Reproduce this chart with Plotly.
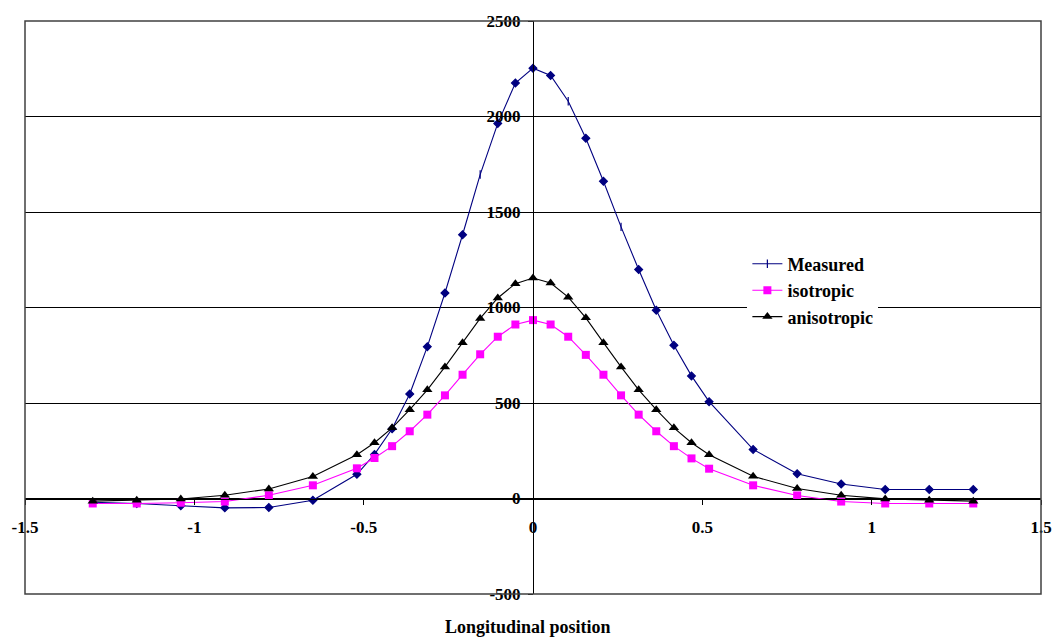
import plotly.graph_objects as go

# Longitudinal positions of the sampled points
position = [-1.3, -1.17, -1.04, -0.91, -0.78, -0.65, -0.52, -0.468, -0.416, -0.364,
            -0.312, -0.26, -0.208, -0.156, -0.104, -0.052, 0.0, 0.052, 0.104, 0.156,
            0.208, 0.26, 0.312, 0.364, 0.416, 0.468, 0.52, 0.65, 0.78, 0.91,
            1.04, 1.17, 1.3]

measured = [-20, -26, -38, -49, -47, -9, 127, 231, 365, 547,
            795, 1076, 1381, 1696, 1964, 2175, 2253, 2215, 2080, 1886,
            1661, 1422, 1199, 986, 802, 642, 507, 257, 130, 76,
            47, 47, 47]

isotropic = [-26, -26, -22, -16, 17, 69, 158, 212, 274, 352,
             439, 540, 648, 755, 847, 911, 934, 911, 847, 752,
             648, 540, 439, 352, 274, 210, 156, 69, 16, -16,
             -26, -26, -26]

anisotropic = [-14, -9, -3, 17, 50, 115, 229, 292, 370, 465,
               569, 689, 816, 943, 1050, 1125, 1154, 1128, 1054, 946,
               816, 689, 569, 465, 370, 292, 229, 116, 52, 17,
               -2, -9, -14]

series_names = ["Measured", "isotropic", "anisotropic"]
x_tick_vals = [-1.5, -1, -0.5, 0, 0.5, 1, 1.5]
x_tick_text = ["-1.5", "-1", "-0.5", "0", "0.5", "1", "1.5"]
y_tick_vals = [-500, 0, 500, 1000, 1500, 2000, 2500]
y_tick_text = ["-500", "0", "500", "1000", "1500", "2000", "2500"]
x_title = "Longitudinal position"

FONT = "Liberation Serif, Times New Roman, serif"
NAVY = "#000080"
MAGENTA = "#FF00FF"


def bold(s):
    return "<b>" + s + "</b>"


# Diamonds, with a thin vertical tick at a few of the measured points
tick_points = {-1.3, -0.156, 0.104, 0.26}
measured_symbols = ["line-ns" if p in tick_points else "diamond" for p in position]

fig = go.Figure()
fig.add_trace(go.Scatter(
    x=position, y=measured, name=bold(series_names[0]), mode="lines+markers",
    line=dict(color=NAVY, width=1.1),
    marker=dict(symbol=measured_symbols, size=6, color=NAVY,
                line=dict(color=NAVY, width=1.2)),
))
fig.add_trace(go.Scatter(
    x=position, y=isotropic, name=bold(series_names[1]), mode="lines+markers",
    line=dict(color=MAGENTA, width=1.1),
    marker=dict(symbol="square", size=8, color=MAGENTA),
))
fig.add_trace(go.Scatter(
    x=position, y=anisotropic, name=bold(series_names[2]), mode="lines+markers",
    line=dict(color="black", width=1.1),
    marker=dict(symbol="triangle-up", size=9, color="black"),
))

tick_font = dict(family=FONT, size=17, color="black")

fig.update_layout(
    width=1064, height=638,
    margin=dict(l=21, r=19, t=16, b=44),
    paper_bgcolor="white", plot_bgcolor="white",
    showlegend=True,
    legend=dict(
        x=0.711, y=0.608, xanchor="left", yanchor="top",
        bgcolor="white", borderwidth=0,
        font=dict(family=FONT, size=18, color="black"),
        itemwidth=30,
    ),
    xaxis=dict(
        range=[-1.5, 1.5], anchor="free", position=500 / 3000,
        tickmode="array", tickvals=x_tick_vals,
        ticktext=[bold(t) for t in x_tick_text],
        ticks="outside", ticklen=5, tickcolor="black", tickwidth=1,
        ticklabelstandoff=8,
        showline=True, linecolor="black", linewidth=1,
        showgrid=False, zeroline=False,
        tickfont=tick_font,
    ),
    yaxis=dict(
        range=[-500, 2500], anchor="free", position=0.5,
        tickmode="array", tickvals=y_tick_vals,
        ticktext=[bold(t) for t in y_tick_text],
        ticks="outside", ticklen=5, tickcolor="black", tickwidth=1,
        ticklabelstandoff=4,
        showline=True, linecolor="black", linewidth=1,
        showgrid=True, gridcolor="black", gridwidth=1,
        zeroline=False,
        tickfont=tick_font,
    ),
    shapes=[dict(type="rect", xref="paper", yref="paper", x0=0, x1=1, y0=0, y1=1,
                 line=dict(color="#404040", width=1.5), fillcolor="rgba(0,0,0,0)",
                 layer="above")],
    annotations=[dict(text=bold(x_title), xref="paper", yref="paper",
                      x=0.495, y=-0.058, xanchor="center", yanchor="middle",
                      showarrow=False,
                      font=dict(family=FONT, size=18, color="black"))],
)

fig.write_html("out.html")
